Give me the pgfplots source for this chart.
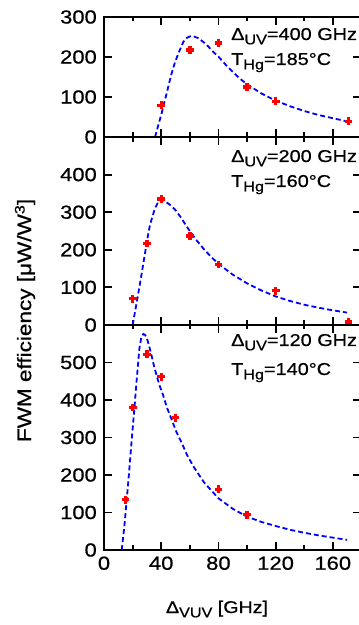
\documentclass[border=0pt]{standalone}
\usepackage{fontspec}
\setmainfont{Liberation Sans}[FakeStretch=1.16,FakeBold=0.7]
\usepackage{pgfplots}
\pgfplotsset{compat=1.18}
\newcommand{\sub}[1]{\raisebox{-4.3bp}{\fontsize{14}{14}\selectfont #1}}
\pgfplotsset{
  panel/.style={
    scale only axis, width=257.4bp, xmin=0, xmax=180,
    anchor=south west,
    axis line style={line width=2.2bp},
    tick style={black, line width=1.8bp},
    major tick length=8bp,
    minor tick length=4.5bp,
    tick align=inside,
    xtick={0,40,...,160},
    minor xtick={20,60,...,180},
    ticklabel style={font=\fontsize{19}{19}\selectfont},
    yticklabel style={xshift=-3.7bp},
    xticklabel style={yshift=-3bp},
    /pgf/number format/assume math mode=true,
  },
  fitc/.style={blue, line width=1.8bp, dash pattern=on 5bp off 3bp, no markers},
  dat/.style={only marks, mark=+, red, mark size=3.9bp, line width=3.4bp},
}
\begin{document}
\begin{tikzpicture}
\path[use as bounding box] (0,0) rectangle (359bp,625bp);
% top panel
\begin{axis}[panel, at={(104bp,488bp)}, height=120bp, ymin=0, ymax=300,
  ytick={0,100,200,300}, xticklabels={}]
\addplot[fitc] coordinates {(35.7,0) (38,30) (40.3,59) (42,84) (43.8,109) (45.5,134) (47.3,159) (49.5,185) (52,209) (55.5,238) (58,248) (60.5,252) (63,251) (66,247) (70,236) (73,226) (76,214) (80,201) (85,181) (90,163) (95,146) (100,132) (110,109) (120,91) (130,77) (140,65) (150,55) (160,47) (170,39)};
\addplot[dat] coordinates {(40,79) (60,217) (80,235) (100,125) (120,89) (171,39)};
\end{axis}
% middle panel
\begin{axis}[panel, at={(104bp,300bp)}, height=188bp, ymin=0, ymax=500,
  ytick={0,100,200,300,400}, xticklabels={}]
\addplot[fitc] coordinates {(20,0) (21.4,29) (22.8,58) (24,85) (25.2,111) (26.4,138) (27.5,164) (28.7,191) (29.8,218) (31,243) (32.2,267) (34,290) (35.7,311) (37.5,324) (39.2,332) (41,333) (42.7,329) (46,320) (49.7,307) (54,285) (57.8,262) (60,250) (65,224) (70,201) (75,181) (80,163) (90,134) (100,111) (110,92) (120,76) (130,64) (140,54) (150,46) (160,39) (170,33)};
\addplot[dat] coordinates {(20,70) (30,217) (40,335) (60,237) (80,161) (120,91) (171,8)};
\end{axis}
% bottom panel
\begin{axis}[panel, at={(104bp,75bp)}, height=225bp, ymin=0, ymax=600,
  ytick={0,100,200,300,400,500}]
\addplot[fitc] coordinates {(12.4,0) (14.2,62) (15.9,134) (17.5,205) (19.4,295) (21.2,375) (22.9,455) (24.7,536) (26,565) (27.5,576) (28.6,574) (29.8,567) (31.5,545) (33.3,518) (35,490) (36.9,464) (39,437) (41.5,411) (44,380) (47.3,348) (50.5,316) (54.3,286) (58,254) (62.5,223) (70,180) (80,138) (90,110) (100,89) (110,75) (120,64) (130,54) (140,46) (150,39) (160,33) (170,27)};
\addplot[dat] coordinates {(15,134) (20,380) (30,522) (40,462) (50,353) (80,162) (100,94)};
\end{axis}
\begin{scope}[every node/.style={anchor=base west, inner sep=0pt, font=\fontsize{17.2}{17.2}\selectfont}]
\node at (231bp,585bp) {Δ\sub{UV}=400 GHz};
\node at (231bp,560bp) {T\sub{Hg}=185°C};
\node at (231bp,463bp) {Δ\sub{UV}=200 GHz};
\node at (231bp,438bp) {T\sub{Hg}=160°C};
\node at (231bp,279bp) {Δ\sub{UV}=120 GHz};
\node at (231bp,250bp) {T\sub{Hg}=140°C};
\end{scope}
\node[font=\fontsize{17}{17}\selectfont, anchor=base, inner sep=0pt] at (217bp,12bp) {Δ\sub{VUV} [GHz]};
\node[font=\fontsize{19.5}{19.5}\selectfont, rotate=90, anchor=center, inner sep=0pt] at (25bp,304.5bp) {FWM efficiency [μW/W\raisebox{6.5bp}{\fontsize{14}{14}\selectfont 3}]};
\end{tikzpicture}
\end{document}
